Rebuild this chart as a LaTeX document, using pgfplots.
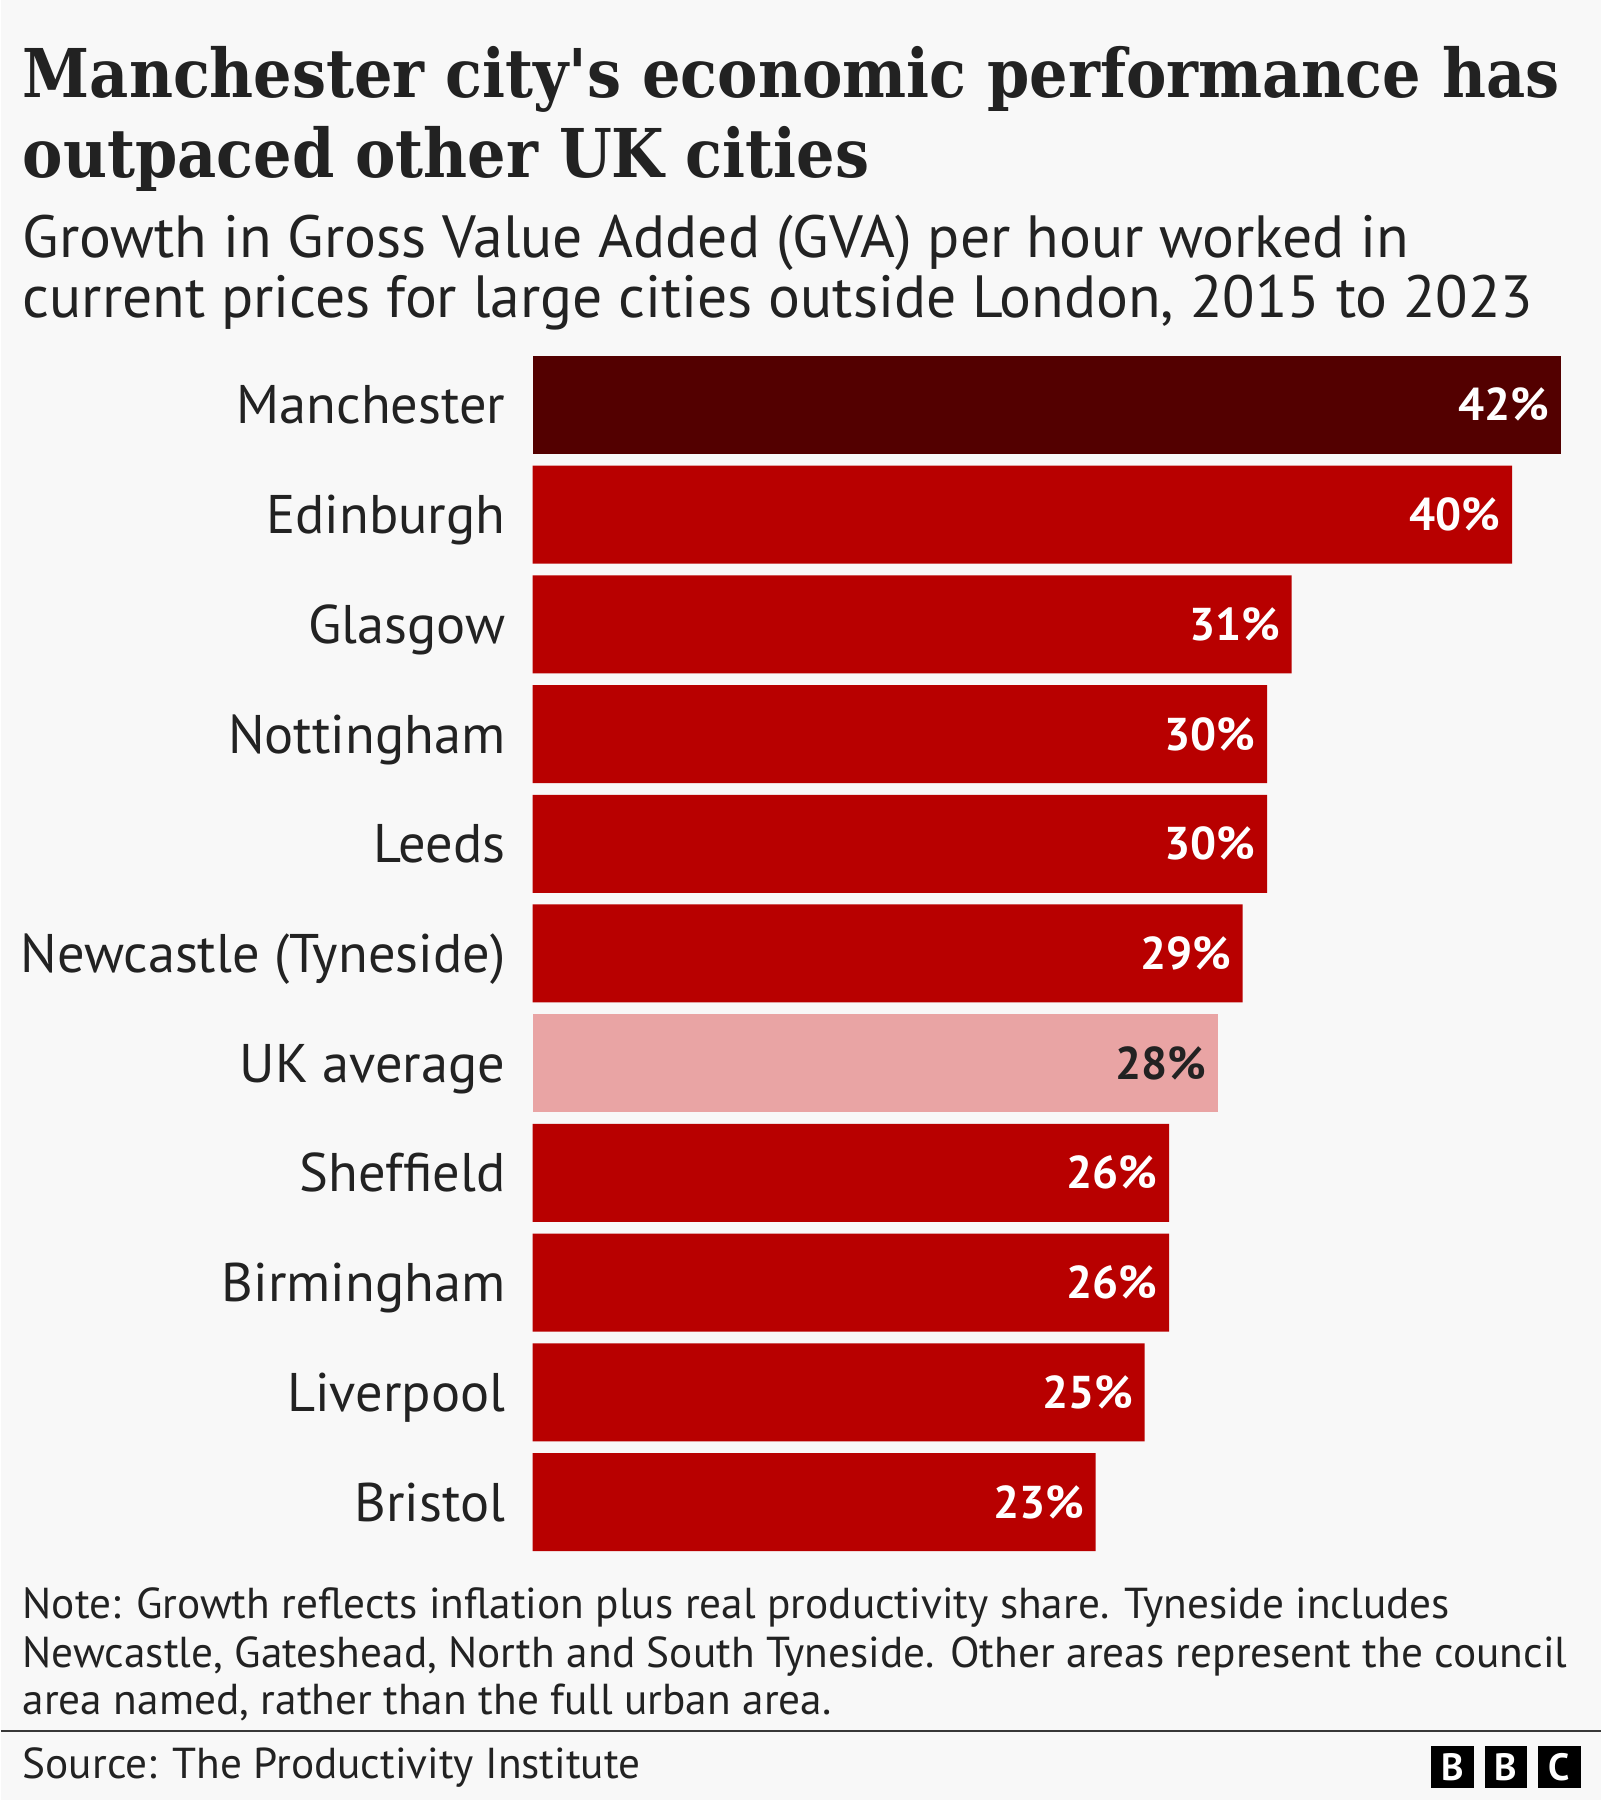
\documentclass[border=0pt]{standalone}
\usepackage{pgfplots}
\pgfplotsset{compat=1.18}
\usepackage{fontspec}
\setmainfont{PT Sans}
\newfontfamily\titlefont{DejaVu Serif Condensed Bold}
\definecolor{bg}{HTML}{F8F8F8}
\definecolor{txt}{HTML}{222222}
\definecolor{darkred}{HTML}{530000}
\definecolor{bbcred}{HTML}{B80000}
\definecolor{pink}{HTML}{E9A4A4}
\begin{document}
\begin{tikzpicture}
\begin{scope}[x=0.25pt,y=-0.25pt]
\fill[bg] (0,0) rectangle (1600,1800);
\begin{scope}[every node/.style={anchor=base west, inner sep=0pt, text=txt}]
\node[font=\titlefont\fontsize{16.82}{20}\selectfont] at (21,97) {Manchester city's economic performance has};
\node[font=\titlefont\fontsize{16.82}{20}\selectfont] at (21,177) {outpaced other UK cities};
\node[font=\fontsize{14.9}{17}\selectfont] at (21,257) {Growth in Gross Value Added (GVA) per hour worked in};
\node[font=\fontsize{14.9}{17}\selectfont] at (21,317) {current prices for large cities outside London, 2015 to 2023};
\node[font=\fontsize{10.82}{12}\selectfont] at (21,1618) {Note: Growth reflects inflation plus real productivity share. Tyneside includes};
\node[font=\fontsize{10.82}{12}\selectfont] at (21,1667) {Newcastle, Gateshead, North and South Tyneside. Other areas represent the council};
\node[font=\fontsize{10.82}{12}\selectfont] at (21,1714) {area named, rather than the full urban area.};
\node[font=\fontsize{10.82}{12}\selectfont] at (21,1778) {Source: The Productivity Institute};
\end{scope}
\draw[line width=0.5pt, color=txt!90] (0,1731) -- (1600,1731);
\foreach \xa/\xb/\t in {1430/1473/B,1484/1526/B,1537/1580/C}{
  \fill[black] (\xa,1746) rectangle (\xb,1788);
  \node[text=white, font=\bfseries\fontsize{9.5}{10}\selectfont, inner sep=0pt] at ({(\xa+\xb)/2},1767) {\t};
}
\end{scope}
\begin{axis}[
  at={(132.875pt,-389.2125pt)}, anchor=south west,
  scale only axis, width=257.125pt, height=301.7pt,
  xmin=0, xmax=42, ymin=-0.5, ymax=10.5, y dir=reverse,
  axis line style={draw=none}, major tick length=0pt,
  xtick=\empty,
  ytick={0,1,2,3,4,5,6,7,8,9,10},
  yticklabels={Manchester,Edinburgh,Glasgow,Nottingham,Leeds,Newcastle (Tyneside),UK average,Sheffield,Birmingham,Liverpool,Bristol},
  yticklabel style={anchor=base east, inner sep=0pt, xshift=-6.6pt, yshift=-4.75pt, text=txt, font=\fontsize{13.6}{15}\selectfont},
  clip=false,
  every axis plot/.append style={xbar, bar shift=0pt, bar width=24.5pt, draw=none},
  point meta=explicit symbolic,
  nodes near coords,
  nodes near coords style={anchor=base east, inner sep=0pt, xshift=-2.75pt, yshift=-4pt, font=\bfseries\fontsize{11.5}{12}\selectfont},
]
\addplot[fill=darkred, nodes near coords style={text=white}] coordinates {(42,0) [42\%]};
\addplot[fill=bbcred, nodes near coords style={text=white}] coordinates {
(40,1) [40\%]
(31,2) [31\%]
(30,3) [30\%]
(30,4) [30\%]
(29,5) [29\%]
(26,7) [26\%]
(26,8) [26\%]
(25,9) [25\%]
(23,10) [23\%]
};
\addplot[fill=pink, nodes near coords style={text=txt}] coordinates {(28,6) [28\%]};
\end{axis}
\end{tikzpicture}
\end{document}
